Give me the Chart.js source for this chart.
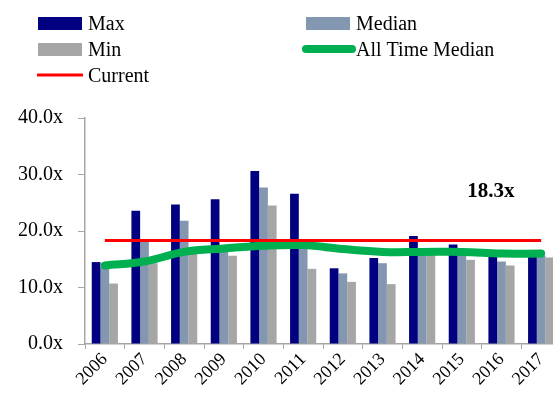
<!DOCTYPE html>
<html>
<head>
<meta charset="utf-8">
<script src="https://cdn.jsdelivr.net/npm/chart.js@4"></script>
<style>
  body { margin: 0; overflow: hidden; background: #fff; }
  #wrap { position: relative; width: 566px; height: 401px; }
</style>
</head>
<body>
<div id="wrap"><canvas id="pe-chart"></canvas></div>
<script>
const years = ["2006", "2007", "2008", "2009", "2010", "2011", "2012", "2013", "2014", "2015", "2016", "2017"];
const maxValues = [14.5, 23.6, 24.7, 25.6, 30.6, 26.6, 13.4, 15.2, 19.1, 17.6, 15.9, 16.1];
const medianValues = [13.6, 18.1, 21.8, 16.4, 27.7, 17.0, 12.5, 14.3, 16.2, 15.9, 14.6, 15.6];
const minValues = [10.7, 14.3, 16.0, 15.6, 24.5, 13.3, 11.0, 10.6, 16.0, 14.9, 13.9, 15.3];
const allTimeMedian = [13.9, 14.6, 16.3, 16.9, 17.4, 17.5, 16.8, 16.3, 16.3, 16.3, 16.0, 16.0];
const currentValues = [18.3, 18.3, 18.3, 18.3, 18.3, 18.3, 18.3, 18.3, 18.3, 18.3, 18.3, 18.3];
const currentLabel = "18.3x";
const yTicks = [0, 10, 20, 30, 40];

const serif = "'Liberation Serif', 'Times New Roman', serif";
const axisGrey = "#a6a6a6";

// Legend drawn on the canvas in two columns
const legendPlugin = {
    id: "twoColLegend",
    afterDraw(chart) {
        const ctx = chart.ctx;
        const items = [
            { label: "Max", kind: "box", color: "#000080", x: 38, y: 17 },
            { label: "Median", kind: "box", color: "#8497b0", x: 306, y: 17 },
            { label: "Min", kind: "box", color: "#a6a6a6", x: 38, y: 43 },
            { label: "All Time Median", kind: "thick", color: "#00b050", x: 306, y: 43 },
            { label: "Current", kind: "line", color: "#ff0000", x: 38, y: 69 }
        ];
        ctx.save();
        ctx.font = "20px " + serif;
        ctx.fillStyle = "#000";
        ctx.textBaseline = "alphabetic";
        items.forEach((it) => {
            if (it.kind === "box") {
                ctx.fillStyle = it.color;
                ctx.fillRect(it.x, it.y, 44, 13);
            } else if (it.kind === "thick") {
                ctx.strokeStyle = it.color;
                ctx.lineWidth = 8;
                ctx.lineCap = "round";
                ctx.beginPath();
                ctx.moveTo(it.x, it.y + 6);
                ctx.lineTo(it.x + 46, it.y + 6);
                ctx.stroke();
            } else {
                ctx.strokeStyle = it.color;
                ctx.lineWidth = 3;
                ctx.lineCap = "butt";
                ctx.beginPath();
                ctx.moveTo(it.x - 1, it.y + 6);
                ctx.lineTo(it.x + 45, it.y + 6);
                ctx.stroke();
            }
            ctx.fillStyle = "#000";
            ctx.fillText(it.label, it.x + 50, it.y + 13);
        });
        ctx.restore();
    }
};

// "18.3x" annotation placed through the scales
const currentLabelPlugin = {
    id: "currentLabel",
    afterDatasetsDraw(chart) {
        const ctx = chart.ctx;
        const x = chart.scales.x.getPixelForValue(9.73);
        const y = chart.scales.y.getPixelForValue(27.0);
        ctx.save();
        ctx.font = "bold 21px " + serif;
        ctx.fillStyle = "#000";
        ctx.textAlign = "center";
        ctx.textBaseline = "middle";
        ctx.fillText(currentLabel, x, y);
        ctx.restore();
    }
};

const ctx = document.getElementById("pe-chart").getContext("2d");
new Chart(ctx, {
    data: {
        labels: years,
        datasets: [
            { type: "line", label: "Current", data: currentValues, borderColor: "#ff0000",
              borderWidth: 3, pointRadius: 0, tension: 0, order: 0 },
            { type: "line", label: "All Time Median", data: allTimeMedian, borderColor: "#00b050",
              borderWidth: 8, borderCapStyle: "round", pointRadius: 0, tension: 0.4, order: 1 },
            { type: "bar", label: "Max", data: maxValues, backgroundColor: "#000080", order: 3 },
            { type: "bar", label: "Median", data: medianValues, backgroundColor: "#8497b0", order: 3 },
            { type: "bar", label: "Min", data: minValues, backgroundColor: "#a6a6a6", order: 3 }
        ]
    },
    options: {
        responsive: true,
        maintainAspectRatio: false,
        animation: false,
        layout: { padding: { top: 118, right: 5, bottom: 0, left: 0 } },
        datasets: { bar: { categoryPercentage: 0.66, barPercentage: 1.0 } },
        plugins: { legend: { display: false }, tooltip: { enabled: false } },
        scales: {
            x: {
                offset: true,
                grid: { display: true, drawOnChartArea: false, drawTicks: true, tickLength: 5,
                        color: axisGrey, offset: true },
                border: { display: true, color: axisGrey, width: 1.5 },
                ticks: { font: { family: serif, size: 18 }, color: "#000",
                         minRotation: 45, maxRotation: 45, padding: 0, autoSkip: false },
                afterFit: (scale) => { scale.height = 57; }
            },
            y: {
                min: 0,
                max: 40,
                afterBuildTicks: (scale) => { scale.ticks = yTicks.map((v) => ({ value: v })); },
                grid: { display: true, drawOnChartArea: false, drawTicks: true, tickLength: 7,
                        color: axisGrey },
                border: { display: true, color: axisGrey, width: 1.5 },
                ticks: { font: { family: serif, size: 20 }, color: "#000", padding: 15,
                         callback: (v) => v.toFixed(1) + "x" },
                afterFit: (scale) => { scale.width = 85; }
            }
        }
    },
    plugins: [legendPlugin, currentLabelPlugin]
});
</script>
</body>
</html>
